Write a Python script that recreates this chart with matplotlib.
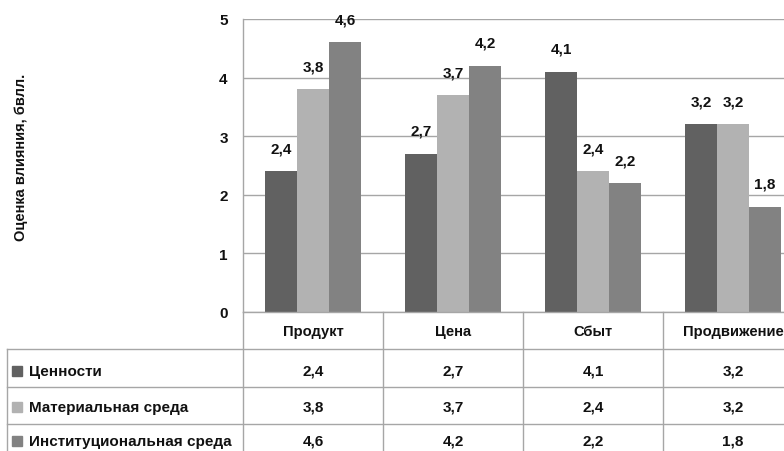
import matplotlib
matplotlib.use("Agg")
import matplotlib.pyplot as plt
from matplotlib.transforms import blended_transform_factory
from matplotlib.patches import Rectangle
import numpy as np

plt.rcParams['font.family'] = ['Liberation Sans', 'DejaVu Sans']

categories = ["Продукт", "Цена", "Сбыт", "Продвижение"]
series_names = ["Ценности", "Материальная среда", "Институциональная среда"]
values_cennosti = [2.4, 2.7, 4.1, 3.2]
values_material = [3.8, 3.7, 2.4, 3.2]
values_institut = [4.6, 4.2, 2.2, 1.8]
y_ticks = [0, 1, 2, 3, 4, 5]
y_label = "Оценка влияния, бвлл."

series_values = [values_cennosti, values_material, values_institut]
colors = ["#616161", "#b2b2b2", "#828282"]
grid_color = "#a6a6a6"
text_color = "#111111"

W, H = 784, 452
fig = plt.figure(figsize=(W / 100, H / 100), dpi=100)

def fx(px):
    return px / W

def fy(py):
    return 1 - py / H

# plot area (extends a little past the right edge, like the original sheet)
left, right, top, bottom = 243, 803, 20, 313
ax = fig.add_axes([fx(left), fy(bottom), fx(right - left), fy(top) - fy(bottom)])

x = np.arange(len(categories))
bw = 0.229
for i, (vals, col) in enumerate(zip(series_values, colors)):
    xs = x + (i - 1) * bw
    ax.bar(xs, vals, width=bw, color=col, zorder=2)
    for xi, v in zip(xs, vals):
        ax.annotate(f"{v:.1f}".replace(".", ","), (xi, v), xytext=(0, 16.5),
                    textcoords="offset points", ha="center", va="center",
                    fontsize=11, fontweight="bold", color=text_color)

ax.set_xlim(-0.5, len(categories) - 0.5)
ax.set_ylim(0, 5)
ax.set_yticks(y_ticks)
ax.set_yticklabels([str(t) for t in y_ticks], fontsize=11, fontweight="bold",
                   color=text_color)
ax.tick_params(axis="y", length=0, pad=11)
ax.set_xticks([])
ax.grid(axis="y", color=grid_color, linewidth=1, zorder=0)
for s in ["top", "right"]:
    ax.spines[s].set_visible(False)
for s in ["left", "bottom"]:
    ax.spines[s].set_color(grid_color)
    ax.spines[s].set_linewidth(1)

fig.text(fx(21), fy(157), y_label, rotation=90, ha="center", va="center",
         fontsize=10.5, fontweight="bold", color=text_color)

# data table underneath the plot
ov = fig.add_axes([0, 0, 1, 1], facecolor="none")
ov.set_xlim(0, W)
ov.set_ylim(H, 0)
ov.axis("off")
tr = blended_transform_factory(ax.transData, ov.transData)

header_mid = 332
row_lines = [350, 388, 425, 462]
row_mids = [372, 408, 442]
table_left = 7

# vertical borders at category edges
for b in np.arange(len(categories) + 1) - 0.5:
    ov.plot([b, b], [bottom, row_lines[-1]], color=grid_color, lw=1,
            transform=tr, clip_on=False)
ov.plot([table_left, table_left], [row_lines[0], row_lines[-1]],
        color=grid_color, lw=1)
for yl in row_lines:
    ov.plot([table_left, W + 30], [yl, yl], color=grid_color, lw=1, clip_on=False)

for xi, c in zip(x, categories):
    ov.text(xi, header_mid, c, transform=tr, ha="center", va="center",
            fontsize=10.6, fontweight="bold", color=text_color)

for r, (name, vals, col) in enumerate(zip(series_names, series_values, colors)):
    ym = row_mids[r]
    ov.add_patch(Rectangle((12, ym - 5), 10, 10, color=col))
    ov.text(29, ym, name, ha="left", va="center", fontsize=11,
            fontweight="bold", color=text_color)
    for xi, v in zip(x, vals):
        ov.text(xi, ym, f"{v:.1f}".replace(".", ","), transform=tr,
                ha="center", va="center", fontsize=11, fontweight="bold",
                color=text_color)

fig.savefig("out.png", dpi=100)
